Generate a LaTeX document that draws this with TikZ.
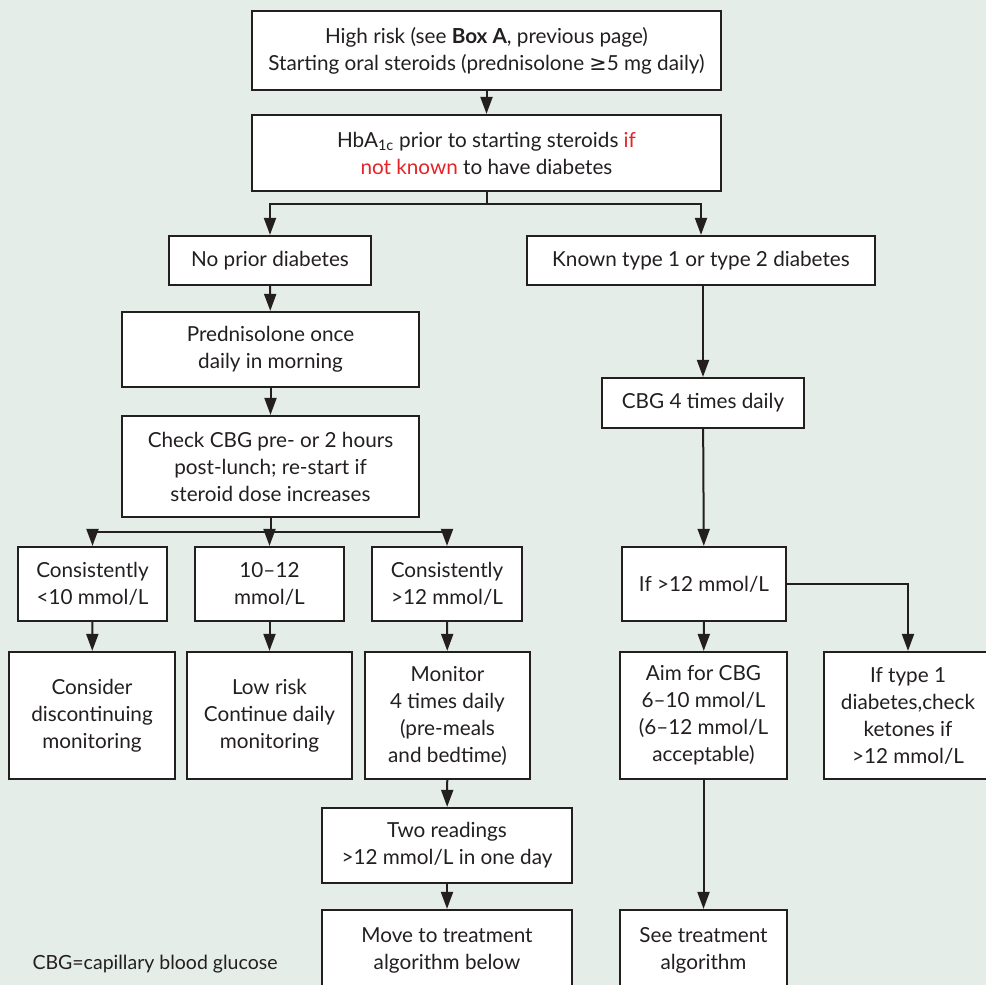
\documentclass[tikz,border=0pt]{standalone}
\usepackage{fontspec}
\setmainfont{Lato}
\newfontfamily\symbfont{DejaVu Sans}
\usepackage{tikz}
\usepackage{xcolor}
\usetikzlibrary{arrows.meta, calc}
\definecolor{chartbg}{RGB}{229,237,232}
\definecolor{chartink}{RGB}{35,31,32}
\definecolor{chartred}{RGB}{230,35,40}

\begin{document}
\begin{tikzpicture}[x=1pt, y=-1pt,
        flowbox/.style={draw=chartink, line width=2.2pt, fill=white, align=center,
            text=chartink, inner sep=0pt, font=\fontsize{20.7}{27}\selectfont},
        flowarrow/.style={draw=chartink, line width=2pt, -{Triangle[width=12pt, length=17pt]}},
        flowline/.style={draw=chartink, line width=2pt}]
        \useasboundingbox (0,0) rectangle (986,985);
        \clip (0,0) rectangle (986,985);
        \fill [chartbg] (0,0) rectangle (986,985);

        \node (highrisk) [flowbox, minimum width=469pt, minimum height=79pt] at (486.5,50.5)
            {High risk (see \textbf{Box A}, previous page)\\Starting oral steroids (prednisolone {\symbfont ≥}5 mg daily)};
        \node (hba) [flowbox, minimum width=469pt, minimum height=76pt] at (486.5,153)
            {HbA\textsubscript{1c} prior to starting steroids \textcolor{chartred}{if}\\\textcolor{chartred}{not known} to have diabetes};

        \node (noprior) [flowbox, minimum width=202pt, minimum height=49pt] at (270,260.5) {No prior diabetes};
        \node (known) [flowbox, minimum width=348pt, minimum height=49pt] at (701,260.5) {Known type 1 or type 2 diabetes};

        \node (pred) [flowbox, minimum width=297pt, minimum height=75pt] at (270.5,349.5) {Prednisolone once\\daily in morning};
        \node (check) [flowbox, minimum width=297pt, minimum height=101pt] at (270.5,466.5)
            {Check CBG pre- or 2 hours\\post-lunch; re-start if\\steroid dose increases};
        \node (cbgfour) [flowbox, minimum width=202pt, minimum height=50pt] at (703,403) {CBG 4 times daily};

        \node (low) [flowbox, minimum width=149pt, minimum height=74pt] at (92.5,584) {Consistently\\<10 mmol/L};
        \node (mid) [flowbox, minimum width=149pt, minimum height=74pt] at (269.5,584) {10--12\\mmol/L};
        \node (high) [flowbox, minimum width=150pt, minimum height=74pt] at (447,584) {Consistently\\>12 mmol/L};
        \node (ifhigh) [flowbox, minimum width=164pt, minimum height=74pt] at (704,584) {If >12 mmol/L};

        \node (consider) [flowbox, minimum width=166pt, minimum height=127pt] at (92,715.5)
            {Consider\\discontinuing\\monitoring};
        \node (lowrisk) [flowbox, minimum width=165pt, minimum height=127pt] at (269.5,715.5)
            {Low risk\\Continue daily\\monitoring};
        \node (monitor) [flowbox, minimum width=165pt, minimum height=127pt] at (447.5,715.5)
            {Monitor\\4 times daily\\(pre-meals\\and bedtime)};
        \node (aim) [flowbox, minimum width=167pt, minimum height=127pt] at (703.5,715.5)
            {Aim for CBG\\6--10 mmol/L\\(6--12 mmol/L\\acceptable)};
        \node (typeone) [flowbox, minimum width=168pt, minimum height=127pt] at (908,715.5)
            {If type 1\\diabetes,check\\ketones if\\>12 mmol/L};

        \node (tworead) [flowbox, minimum width=250pt, minimum height=75pt] at (447,845.5)
            {Two readings\\>12 mmol/L in one day};
        \node (moveto) [flowbox, minimum width=250pt, minimum height=80pt] at (447,950)
            {Move to treatment\\algorithm below};
        \node (seetreat) [flowbox, minimum width=167pt, minimum height=80pt] at (703.5,950)
            {See treatment\\algorithm};

        \node (footnote) [anchor=west, text=chartink, font=\fontsize{19.5}{22}\selectfont] at (29,964)
            {CBG=capillary blood glucose};

        % top part
        \draw [flowarrow] (highrisk) -- (hba);
        \coordinate (splitone) at ($(hba.south)+(0,12)$);
        \draw [flowline] (hba.south) -- (splitone);
        \draw [flowarrow] (splitone) -| (noprior.north);
        \draw [flowarrow] (splitone) -| (known.north);

        % left branch
        \draw [flowarrow] (noprior) -- (pred);
        \draw [flowarrow] (pred) -- (check);
        \coordinate (splittwo) at ($(check.south)+(0,14)$);
        \draw [flowline] (check.south) -- (splittwo);
        \draw [flowarrow] (splittwo) -| (low.north);
        \draw [flowarrow] (splittwo) -| (mid.north);
        \draw [flowarrow] (splittwo) -| (high.north);
        \draw [flowarrow] (low) -- (consider);
        \draw [flowarrow] (mid) -- (lowrisk);
        \draw [flowarrow] (high) -- (monitor);
        \draw [flowarrow] (monitor) -- (tworead);
        \draw [flowarrow] (tworead) -- (moveto);

        % right branch
        \draw [flowarrow] (known.south -| cbgfour.north) -- (cbgfour.north);
        \draw [flowarrow] (cbgfour) -- (ifhigh);
        \draw [flowarrow] (ifhigh) -- (aim);
        \draw [flowarrow] (ifhigh.east) -| (typeone.north);
        \draw [flowarrow] (aim) -- (seetreat);
\end{tikzpicture}
\end{document}
